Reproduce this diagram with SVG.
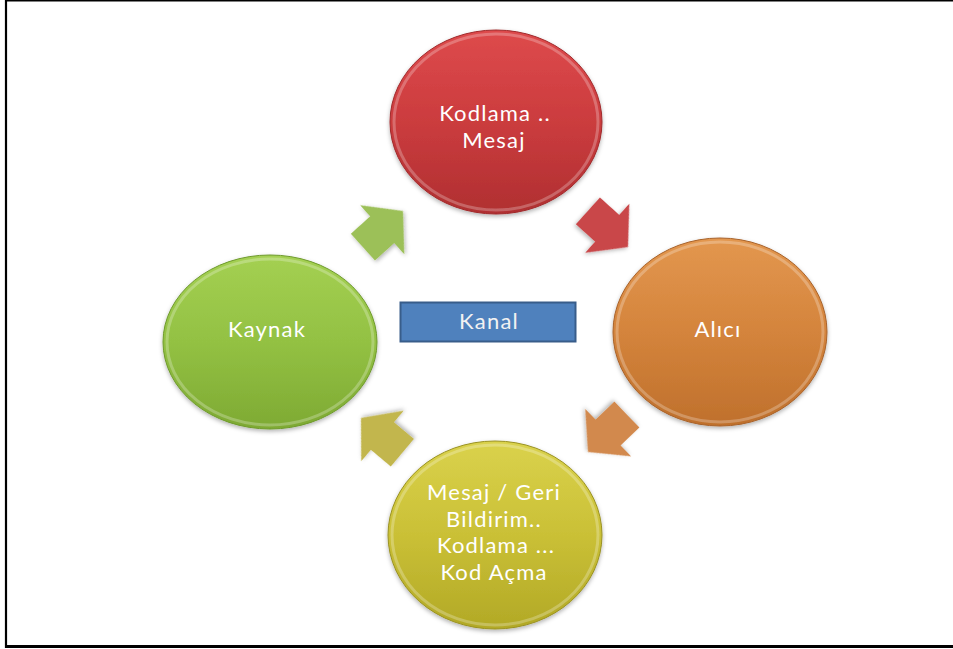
<svg xmlns="http://www.w3.org/2000/svg" width="953" height="649" viewBox="0 0 953 649">
<style>
.lbl{font-family:Lato,"Open Sans","Liberation Sans",sans-serif;font-size:22px;fill:#ffffff;text-anchor:middle;letter-spacing:1.2px}
.rim{fill:none;stroke:#ffffff;stroke-opacity:0.25;stroke-width:3}
.frame{stroke:#000000;fill:none}
</style>
<defs>
<linearGradient id="gRed" x1="0" y1="0" x2="0" y2="1">
<stop offset="0" stop-color="#DE4A4C"/><stop offset="0.5" stop-color="#CB3C3E"/><stop offset="1" stop-color="#B02F31"/>
</linearGradient>
<linearGradient id="gOrange" x1="0" y1="0" x2="0" y2="1">
<stop offset="0" stop-color="#E3974F"/><stop offset="0.5" stop-color="#D4843C"/><stop offset="1" stop-color="#BF702C"/>
</linearGradient>
<linearGradient id="gYellow" x1="0" y1="0" x2="0" y2="1">
<stop offset="0" stop-color="#DAD24C"/><stop offset="0.5" stop-color="#CAC036"/><stop offset="1" stop-color="#B2A926"/>
</linearGradient>
<linearGradient id="gGreen" x1="0" y1="0" x2="0" y2="1">
<stop offset="0" stop-color="#A4D052"/><stop offset="0.5" stop-color="#93C143"/><stop offset="1" stop-color="#7EAA33"/>
</linearGradient>
<filter id="sh" x="-20%" y="-20%" width="140%" height="140%">
<feDropShadow dx="0" dy="2" stdDeviation="2" flood-color="#000" flood-opacity="0.3"/>
</filter>
<path id="arr" d="M0,0 L-28,-33 L-28,-18 L-54,-18 L-54,18 L-28,18 L-28,33 Z"/>
</defs>
<rect x="0" y="0" width="953" height="649" fill="#ffffff"/>
<g id="frame">
<line class="frame" x1="5" y1="0.75" x2="953" y2="0.75" stroke-width="1.5"/>
<line class="frame" x1="6" y1="0" x2="6" y2="648" stroke-width="2.2"/>
<line class="frame" x1="5" y1="646.5" x2="953" y2="646.5" stroke-width="3"/>
</g>
<g id="connectors">
<use href="#arr" transform="translate(403,211) rotate(-42)" fill="#9CC058" filter="url(#sh)"/>
<use href="#arr" transform="translate(628,247) rotate(42)" fill="#C9474A" filter="url(#sh)"/>
<use href="#arr" transform="translate(588,452) rotate(136)" fill="#D2894E" filter="url(#sh)"/>
<use href="#arr" transform="translate(361,418) rotate(-140)" fill="#C2B64E" filter="url(#sh)"/>
</g>
<g id="node-kodlama">
<ellipse cx="496" cy="122" rx="106" ry="92" fill="url(#gRed)" stroke="#A02A2C" stroke-width="1" filter="url(#sh)"/>
<ellipse class="rim" cx="496" cy="122" rx="102" ry="88"/>
<text class="lbl" x="495" y="121">Kodlama ..</text>
<text class="lbl" x="494" y="148">Mesaj</text>
</g>
<g id="node-alici">
<ellipse cx="720" cy="332" rx="107" ry="94" fill="url(#gOrange)" stroke="#A8622A" stroke-width="1" filter="url(#sh)"/>
<ellipse class="rim" cx="720" cy="332" rx="103" ry="90"/>
<text class="lbl" x="718" y="337">Alıcı</text>
</g>
<g id="node-mesaj">
<ellipse cx="495" cy="535" rx="107" ry="94" fill="url(#gYellow)" stroke="#9A9222" stroke-width="1" filter="url(#sh)"/>
<ellipse class="rim" cx="495" cy="535" rx="103" ry="90"/>
<text class="lbl" x="494" y="500">Mesaj / Geri</text>
<text class="lbl" x="494" y="527">Bildirim..</text>
<text class="lbl" x="496" y="553">Kodlama ...</text>
<text class="lbl" x="494" y="580">Kod Açma</text>
</g>
<g id="node-kaynak">
<ellipse cx="270" cy="342" rx="107" ry="87" fill="url(#gGreen)" stroke="#6E9A2C" stroke-width="1" filter="url(#sh)"/>
<ellipse class="rim" cx="270" cy="342" rx="103" ry="83"/>
<text class="lbl" x="267" y="337">Kaynak</text>
</g>
<g id="node-kanal">
<rect x="400.5" y="302.5" width="175" height="39" fill="#4F81BD" stroke="#385D8A" stroke-width="2"/>
<text class="lbl" x="489" y="329" style="fill:#F2F2F2">Kanal</text>
</g>
</svg>
